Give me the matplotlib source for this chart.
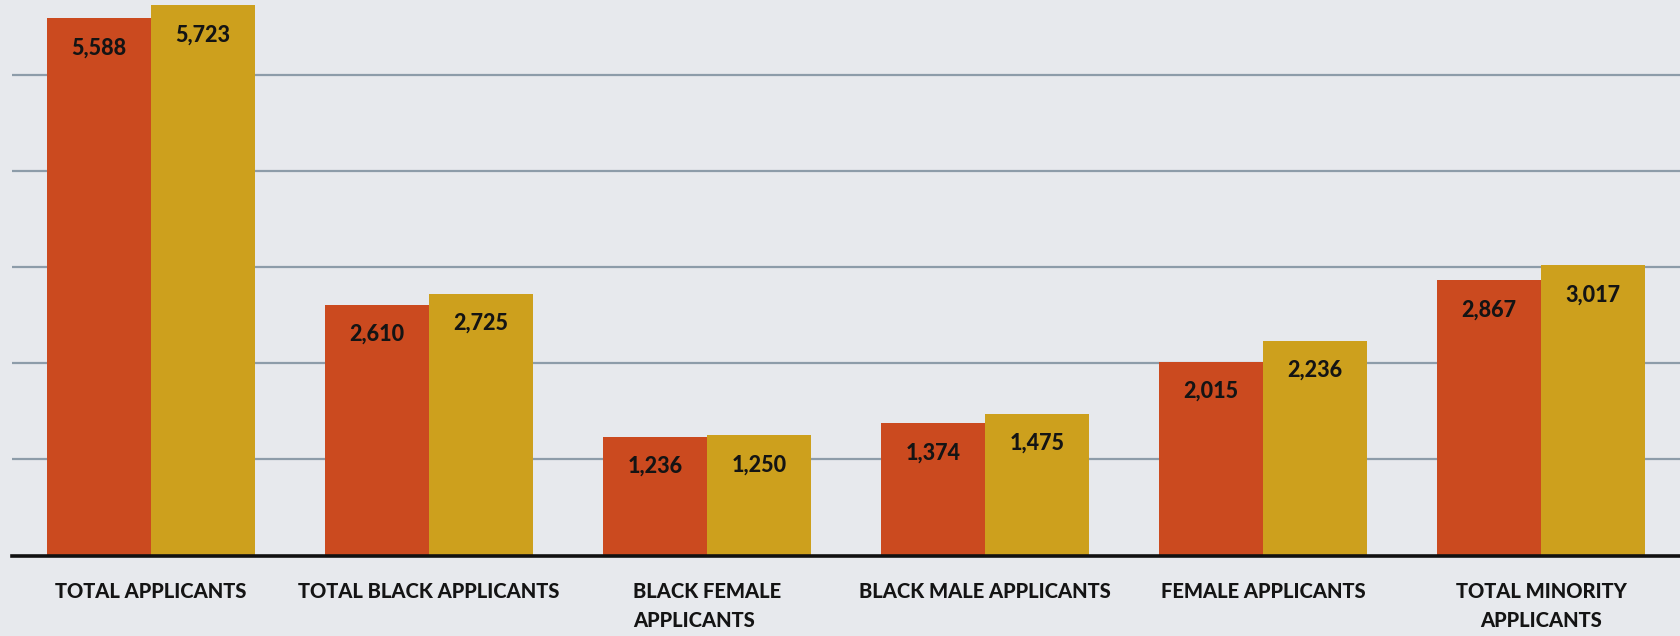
import matplotlib
matplotlib.use("Agg")
import matplotlib.pyplot as plt
import numpy as np

categories = [
    "TOTAL APPLICANTS",
    "TOTAL BLACK APPLICANTS",
    "BLACK FEMALE\nAPPLICANTS",
    "BLACK MALE APPLICANTS",
    "FEMALE APPLICANTS",
    "TOTAL MINORITY\nAPPLICANTS",
]
series_a = [5588, 2610, 1236, 1374, 2015, 2867]
series_b = [5723, 2725, 1250, 1475, 2236, 3017]

RED = "#cb4a1f"
GOLD = "#cda01d"
BG = "#e7e9ed"
GRID = "#8d9ca9"
TEXT = "#141414"
FONT = ["Lato", "DejaVu Sans"]

fig = plt.figure(figsize=(16.8, 6.36), dpi=100, facecolor=BG)
ax = fig.add_axes([12 / 1680, 80.5 / 636, 1 - 12 / 1680, 1 - 80.5 / 636])
ax.set_facecolor(BG)

x = np.arange(len(categories))
w = 0.372
off = 0.1875
bars_a = ax.bar(x - off, series_a, width=w, color=RED, zorder=3)
bars_b = ax.bar(x + off, series_b, width=w, color=GOLD, zorder=3)

ax.set_xlim(-0.5, 5.5)
ax.set_ylim(0, 5778)
ax.set_yticks(range(1000, 6000, 1000))
ax.yaxis.grid(True, color=GRID, linewidth=1.6, zorder=0)
ax.tick_params(left=False, labelleft=False, bottom=False, labelbottom=False)
for s in ["top", "right", "left"]:
    ax.spines[s].set_visible(False)
ax.spines["bottom"].set_color("#111111")
ax.spines["bottom"].set_linewidth(2.6)
ax.spines["bottom"].set_zorder(4)

# value labels sit inside each bar, just below its top
for bars, vals in ((bars_a, series_a), (bars_b, series_b)):
    for b, v in zip(bars, vals):
        ax.annotate(f"{v:,}", (b.get_x() + b.get_width() / 2, v),
                    xytext=(0, -21.5), textcoords="offset points",
                    ha="center", va="center", fontsize=15.5,
                    fontweight="black", color=TEXT, family=FONT, zorder=5)

# category labels under the baseline
for i, lab in enumerate(categories):
    align = "left" if lab.startswith("BLACK FEMALE") else "center"
    ax.annotate(lab, (i, 0), xytext=(0, -19), textcoords="offset points",
                ha="center", va="top", fontsize=14.5, fontweight="black",
                color=TEXT, family=FONT, multialignment=align,
                linespacing=1.65, annotation_clip=False)

fig.savefig("out.png", dpi=100, facecolor=BG)
